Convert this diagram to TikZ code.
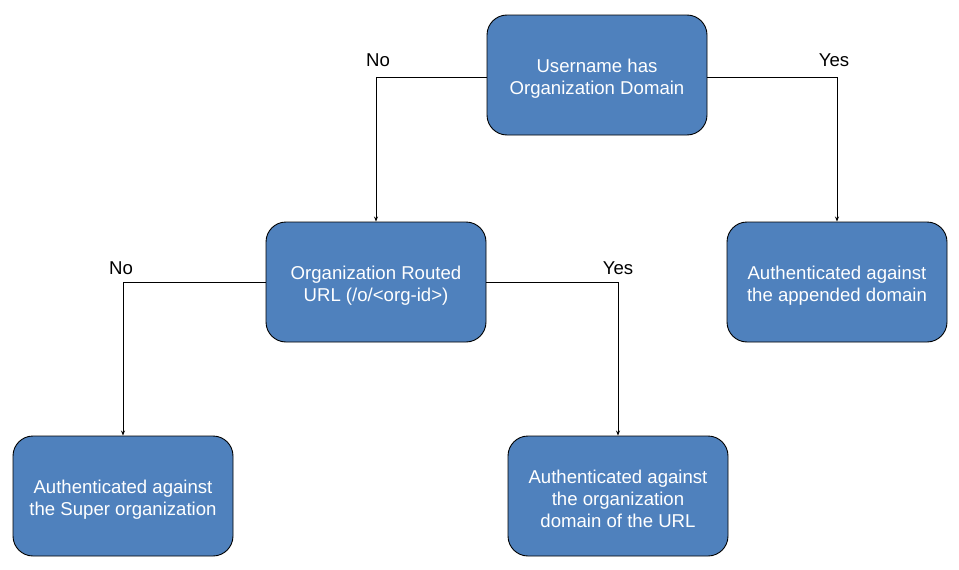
\documentclass[tikz,border=0pt]{standalone}
\usepackage{fontspec}
\setmainfont{Liberation Sans}
\usetikzlibrary{arrows.meta}
\definecolor{boxblue}{HTML}{4F81BD}
\newcommand{\topstrut}{\rule{0pt}{20pt}}
\begin{document}
\begin{tikzpicture}[x=1pt,y=-1pt,
  box/.style={draw=black,line width=0.9pt,fill=boxblue,rounded corners=20pt,
    minimum width=220pt,minimum height=120pt,inner sep=0pt,text=white,
    font=\fontsize{18.6}{22}\selectfont,align=center},
  conn/.style={draw=black,line width=0.8pt,-{Stealth[length=5pt,width=4pt]}},
  lbl/.style={font=\fontsize{18.6}{22}\selectfont,text=black}]
\useasboundingbox (0,0) rectangle (959,570);
\node[box] (top) at (597,75) {\topstrut Username has\\Organization Domain};
\node[box] (mid) at (376,282) {\topstrut Organization Routed\\URL (/o/<org-id>)};
\node[box] (right) at (837,282) {\topstrut Authenticated against\\the appended domain};
\node[box] (bl) at (123,496) {\topstrut Authenticated against\\the Super organization};
\node[box] (bm) at (618,496) {\topstrut Authenticated against\\the organization\\domain of the URL};
\draw[conn] (top.west |- 0,77) -| (mid.north);
\draw[conn] (top.east |- 0,77) -| (right.north);
\draw[conn] (mid.west) -| (bl.north);
\draw[conn] (mid.east) -| (bm.north);
\node[lbl] (l1) at (378,60) {No};
\node[lbl] (l2) at (834,60) {Yes};
\node[lbl] (l3) at (121,268) {No};
\node[lbl] (l4) at (618,268) {Yes};
\end{tikzpicture}
\end{document}
